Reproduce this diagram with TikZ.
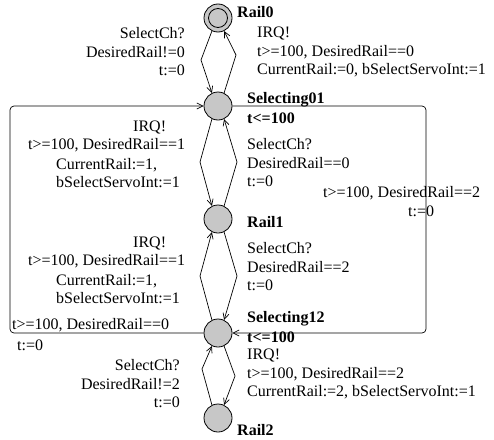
\documentclass[tikz,border=0pt]{standalone}
\usepackage{fontspec}
\setmainfont{Liberation Serif}
\usetikzlibrary{arrows.meta}

\begin{document}
\begin{tikzpicture}[x=1pt, y=-1pt,
    loc/.style={circle, draw, fill=black!22, line width=0.8pt, minimum size=28pt, inner sep=0pt},
    trans/.style={line width=0.7pt, -{Straight Barb[length=6pt, width=6pt]}},
    lbl/.style={font=\fontsize{16}{18.5}\selectfont, inner sep=0pt},
    locname/.style={font=\fontsize{16}{19.5}\selectfont\bfseries, inner sep=0pt}]
  \useasboundingbox (0,0) rectangle (494,439);
  % locations
  \node[loc] (r0) at (218, 18) {};
  \draw[line width=0.8pt] (r0.center) circle[radius=9.5pt];
  \node[loc] (s01) at (218, 106) {};
  \node[loc] (r1) at (218, 219) {};
  \node[loc] (s12) at (218, 333) {};
  \node[loc] (r2) at (218, 418) {};
  \node[locname, anchor=west] (r0name) at (237, 12) {Rail0};
  \node[locname, anchor=west, align=left] (s01name) at (247, 108) {Selecting01\\t<=100};
  \node[locname, anchor=west] (r1name) at (247, 222) {Rail1};
  \node[locname, anchor=west, align=left] (s12name) at (247, 327) {Selecting12\\t<=100};
  \node[locname, anchor=west] (r2name) at (237, 430) {Rail2};
  % transitions
  \draw[trans] (r0.-115) -- (201, 60) -- (s01.115);
  \draw[trans] (s01.65) -- (236, 55) -- (r0.-65);
  \draw[trans] (s01.-115) -- (200, 162) -- (r1.115);
  \draw[trans] (r1.65) -- (237, 162) -- (s01.-65);
  \draw[trans] (s12.115) -- (200, 276) -- (r1.-115);
  \draw[trans] (r1.-65) -- (237, 276) -- (s12.65);
  \draw[trans] (r2.115) -- (202, 369) -- (s12.-115);
  \draw[trans] (s12.-65) -- (235, 376) -- (r2.65);
  \draw[trans, rounded corners=4pt] (s01) -- (426, 106) -- (426, 333) -- (s12);
  \draw[trans, rounded corners=4pt] (s12) -- (10, 333) -- (10, 106) -- (s01);
  % labels
  \node[lbl, anchor=east, align=right] (l1) at (185, 52) {SelectCh?\\DesiredRail!=0\\t:=0};
  \node[lbl, anchor=west, align=left] (l2) at (257, 52) {IRQ!\\t>=100, DesiredRail==0\\CurrentRail:=0, bSelectServoInt:=1};
  \node[lbl, anchor=west] (l3a) at (133, 127) {IRQ!};
  \node[lbl, anchor=west] (l3b) at (28, 145) {t>=100, DesiredRail==1};
  \node[lbl, anchor=west, align=left] (l3c) at (56, 173) {CurrentRail:=1,\\bSelectServoInt:=1};
  \node[lbl, anchor=west, align=left] (l4) at (247, 163) {SelectCh?\\DesiredRail==0\\t:=0};
  \node[lbl, anchor=west] (l5a) at (133, 243) {IRQ!};
  \node[lbl, anchor=west] (l5b) at (28, 261) {t>=100, DesiredRail==1};
  \node[lbl, anchor=west, align=left] (l5c) at (56, 289) {CurrentRail:=1,\\bSelectServoInt:=1};
  \node[lbl, anchor=west, align=left] (l6) at (247, 267) {SelectCh?\\DesiredRail==2\\t:=0};
  \node[lbl, anchor=west] (l7a) at (323, 193) {t>=100, DesiredRail==2};
  \node[lbl, anchor=west] (l7b) at (408, 211) {t:=0};
  \node[lbl, anchor=west] (l8a) at (12, 325) {t>=100, DesiredRail==0};
  \node[lbl, anchor=west] (l8b) at (17, 345) {t:=0};
  \node[lbl, anchor=west, align=left] (l9) at (247, 374) {IRQ!\\t>=100, DesiredRail==2\\CurrentRail:=2, bSelectServoInt:=1};
  \node[lbl, anchor=east, align=right] (l10) at (180, 384) {SelectCh?\\DesiredRail!=2\\t:=0};
\end{tikzpicture}
\end{document}
